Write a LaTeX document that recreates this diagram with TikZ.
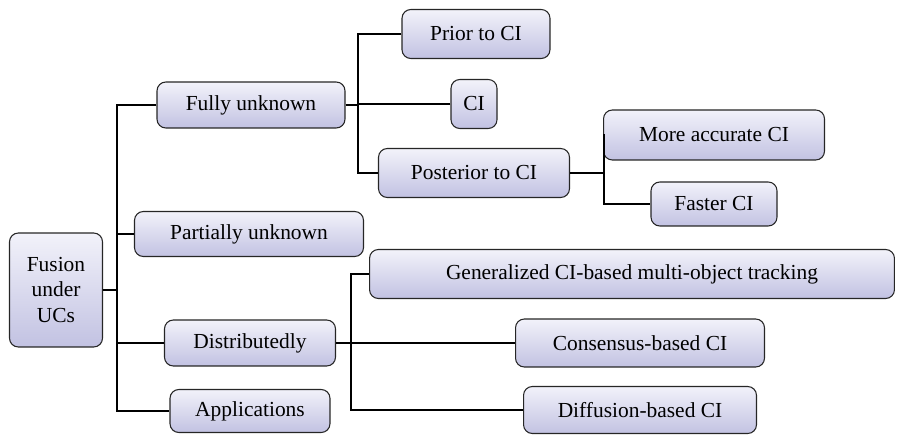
\documentclass[tikz,border=0pt]{standalone}
\usepackage{fontspec}
\setmainfont{Liberation Serif}
\newfontfamily\boxfont{Liberation Serif}
\usetikzlibrary{shapes}
\definecolor{boxtop}{HTML}{F2F2FA}
\definecolor{boxbottom}{HTML}{C2C2E2}
\tikzstyle{block} = [rectangle, draw=black!85, line width=0.6pt, top color=boxtop,
    bottom color=boxbottom, rounded corners=5pt, inner sep=0pt, align=center,
    font=\boxfont\fontsize{12.2}{14.5}\selectfont]
\tikzstyle{line} = [draw, line width=0.6pt]

\begin{document}
\begin{tikzpicture}[x=0.02cm, y=-0.02cm]
		\useasboundingbox (0,0) rectangle (901,435);
		% Draw nodes
		\node [block, minimum width=1.86cm, minimum height=2.28cm] (root) at (56,290) {Fusion\\under\\UCs};
		\node [block, minimum width=3.76cm, minimum height=0.92cm] (fully) at (251,105) {Fully unknown};
		\node [block, minimum width=4.58cm, minimum height=0.90cm] (partial) at (249,234) {Partially unknown};
		\node [block, minimum width=3.42cm, minimum height=0.92cm] (distrib) at (250,343) {Distributedly};
		\node [block, minimum width=3.20cm, minimum height=0.86cm] (apps) at (250,411) {Applications};
		\node [block, minimum width=2.96cm, minimum height=0.98cm] (prior) at (476,34) {Prior to CI};
		\node [block, minimum width=0.92cm, minimum height=0.98cm] (ci) at (474,104) {CI};
		\node [block, minimum width=3.82cm, minimum height=0.98cm] (posterior) at (474,173) {Posterior to CI};
		\node [block, minimum width=4.42cm, minimum height=1.00cm] (accurate) at (714,135) {More accurate CI};
		\node [block, minimum width=2.52cm, minimum height=0.88cm] (faster) at (714,204) {Faster CI};
		\node [block, minimum width=10.50cm, minimum height=0.98cm] (gentrack) at (632,274) {Generalized CI-based multi-object tracking};
		\node [block, minimum width=4.98cm, minimum height=0.96cm] (consensus) at (640,343) {Consensus-based CI};
		\node [block, minimum width=4.66cm, minimum height=0.94cm] (diffusion) at (640,410) {Diffusion-based CI};
		\coordinate (trunk) at (117,290);
		\coordinate (fullyfork) at (358,105);
		\coordinate (postfork) at (604,173);
		\coordinate (distfork) at (351,343);
		% Draw lines connecting
		\path [line] (root.east) -- (trunk);
		\path [line] (fully.west) -| (trunk |- apps.west) -- (apps.west);
		\path [line] (partial.west) -- (partial.west -| trunk);
		\path [line] (distrib.west) -- (distrib.west -| trunk);
		\path [line] (fully.east) -- (fullyfork);
		\path [line] (prior.west) -| (fullyfork |- posterior.west) -- (posterior.west);
		\path [line] (ci.west) -- (ci.west -| fullyfork);
		\path [line] (posterior.east) -- (postfork);
		\path [line] (accurate.west) -| (postfork |- faster.west) -- (faster.west);
		\path [line] (distrib.east) -- (consensus.west);
		\path [line] (gentrack.west) -| (distfork |- diffusion.west) -- (diffusion.west);
	\end{tikzpicture}
\end{document}
